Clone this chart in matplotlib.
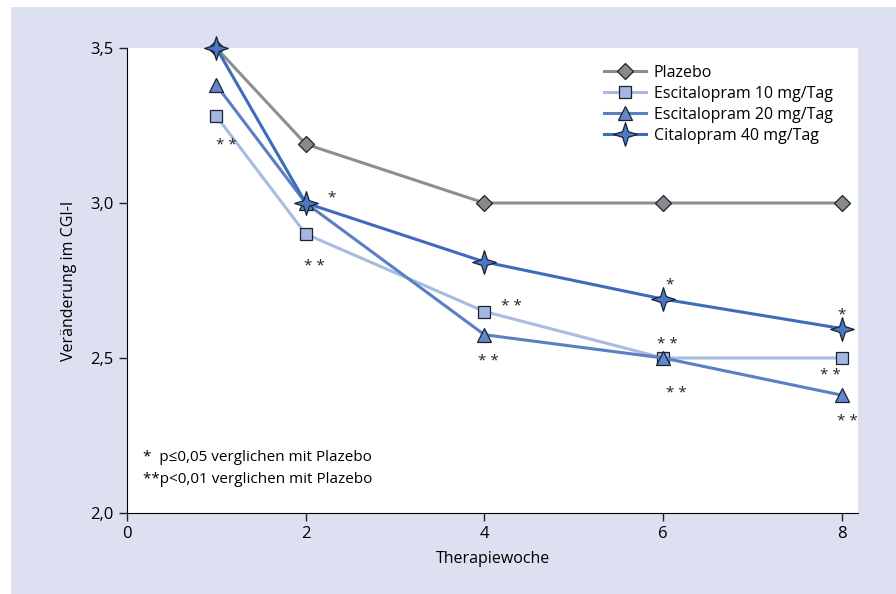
import matplotlib
matplotlib.use('Agg')
import matplotlib.pyplot as plt
from matplotlib.path import Path
from matplotlib.patches import Rectangle
import numpy as np

plt.rcParams['font.family'] = ['Open Sans', 'DejaVu Sans']

weeks = [1, 2, 4, 6, 8]
plazebo = [3.50, 3.19, 3.00, 3.00, 3.00]
esc10 = [3.28, 2.90, 2.65, 2.50, 2.50]
esc20 = [3.38, 3.00, 2.575, 2.50, 2.38]
cit40 = [3.50, 3.00, 2.81, 2.69, 2.595]

labels = ['Plazebo', 'Escitalopram 10 mg/Tag', 'Escitalopram 20 mg/Tag', 'Citalopram 40 mg/Tag']

# Signifikanz-Sterne (x, y, text)
sig_x = [1.0, 2.24, 1.98, 4.18, 3.93, 6.02, 5.93, 6.03, 7.95, 7.76, 7.95]
sig_y = [3.185, 3.015, 2.795, 2.665, 2.49, 2.735, 2.545, 2.385, 2.64, 2.445, 2.295]
sig_t = ['* *', '*', '* *', '* *', '* *', '*', '* *', '* *', '*', '* *', '* *']

# 4-zackiger Stern als Marker
ang = np.arange(8) * np.pi / 4 + np.pi / 2
rad = np.where(np.arange(8) % 2 == 0, 1.0, 0.34)
verts = np.column_stack([rad * np.cos(ang), rad * np.sin(ang)])
star4 = Path(np.vstack([verts, verts[:1]]), [Path.MOVETO] + [Path.LINETO] * 7 + [Path.CLOSEPOLY])

fig = plt.figure(figsize=(8.96, 5.94), dpi=100)
fig.patches.append(Rectangle((11 / 896, 0), 1, (594 - 7) / 594, transform=fig.transFigure,
                             facecolor='#dce0f1', edgecolor='none', zorder=-10))
ax = fig.add_axes([127 / 896, 81 / 594, 731 / 896, 465 / 594])
ax.set_facecolor('white')

styles = [
    (plazebo, '#8e8e8e', 'D', '#8a8a8a', 8),
    (esc10, '#a9bbe0', 's', '#a6b6e2', 9),
    (esc20, '#5b7fc4', '^', '#6287cc', 10.5),
    (cit40, '#3d6db8', star4, '#4a78c4', 17),
]
for (vals, lc, mk, mfc, ms), lab in zip(styles, labels):
    ax.plot(weeks, vals, color=lc, lw=2.2, marker=mk, markersize=ms, markerfacecolor=mfc,
            markeredgecolor='#1a2230', markeredgewidth=0.9, label=lab, clip_on=False)

for x, y, t in zip(sig_x, sig_y, sig_t):
    ax.text(x, y, t, fontsize=11, ha='left', va='center', color='#222222')

ax.text(0.18, 2.18, '*  p≤0,05 verglichen mit Plazebo', fontsize=11, va='center')
ax.text(0.18, 2.108, '**p<0,01 verglichen mit Plazebo', fontsize=11, va='center')

ax.set_xlim(0, 8.18)
ax.set_ylim(2.0, 3.5)
ax.set_xticks([0, 2, 4, 6, 8])
ax.set_yticks([2.0, 2.5, 3.0, 3.5])
ax.set_yticklabels(['2,0', '2,5', '3,0', '3,5'])
ax.tick_params(labelsize=12, length=6, width=1, color='#222222')
ax.spines['top'].set_visible(False)
ax.spines['right'].set_visible(False)
ax.set_xlabel('Therapiewoche', fontsize=11.5, labelpad=6)
ax.set_ylabel('Veränderung im CGI-I', fontsize=11.5, labelpad=10)

ax.legend(loc='upper right', bbox_to_anchor=(0.985, 0.995), frameon=False, fontsize=11.5,
          handlelength=2.6, labelspacing=0.32, handletextpad=0.5)

fig.savefig('out.png', dpi=100)
